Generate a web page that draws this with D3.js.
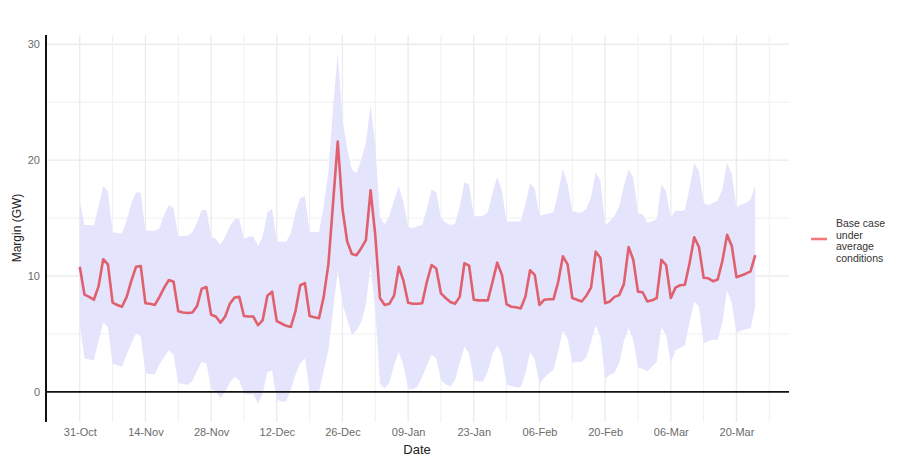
<!DOCTYPE html>
<html>
<head>
<meta charset="utf-8">
<script src="https://cdn.jsdelivr.net/npm/d3@7"></script>
<style>
  body { margin: 0; background: #fff; }
  text { font-family: "Liberation Sans", Arial, sans-serif; }
</style>
</head>
<body>
<svg id="chart" width="906" height="460"></svg>
<script>
// daily values from 31-Oct to 24-Mar
var firstDay = new Date(2022, 9, 31)
var lastDay = new Date(2023, 2, 24)

var margin = [
  10.8, 8.4, 8.2, 7.95, 9.1, 11.45, 11.0,
  7.7, 7.5, 7.35, 8.2, 9.6, 10.8, 10.85,
  7.65, 7.6, 7.5, 8.2, 9.0, 9.65, 9.5,
  6.95, 6.85, 6.8, 6.85, 7.4, 8.9, 9.05,
  6.65, 6.5, 5.97, 6.5, 7.6, 8.15, 8.2,
  6.55, 6.5, 6.5, 5.75, 6.2, 8.3, 8.65,
  6.1, 5.9, 5.7, 5.6, 7.0, 9.2, 9.38,
  6.55, 6.45, 6.35, 8.2, 11.0, 16.3, 21.6,
  15.8, 13.0, 11.9, 11.8, 12.4, 13.1, 17.4,
  13.5, 8.1, 7.5, 7.6, 8.3, 10.8, 9.6,
  7.7, 7.6, 7.6, 7.65, 9.5, 10.95, 10.65,
  8.5, 8.1, 7.75, 7.6, 8.2, 11.1, 10.9,
  7.95, 7.9, 7.9, 7.9, 9.5, 11.15, 10.1,
  7.55, 7.35, 7.3, 7.2, 8.2, 10.5, 10.1,
  7.5, 7.95, 8.0, 8.0, 9.5, 11.7, 11.0,
  8.1, 7.95, 7.8, 8.3, 9.0, 12.1, 11.55,
  7.65, 7.8, 8.2, 8.35, 9.3, 12.5, 11.4,
  8.65, 8.6, 7.8, 7.9, 8.1, 11.4, 10.95,
  8.1, 9.0, 9.2, 9.25, 11.1, 13.35, 12.5,
  9.85, 9.8, 9.55, 9.7, 11.3, 13.55, 12.6,
  9.9, 10.05, 10.2, 10.4, 11.8
]

var upper = [
  16.4, 14.4, 14.4, 14.35, 16.0, 17.8, 17.3,
  13.8, 13.7, 13.7, 14.8, 16.3, 17.2, 17.2,
  13.9, 13.9, 13.9, 14.1, 15.3, 16.1, 15.9,
  13.4, 13.45, 13.5, 13.8, 14.6, 15.7, 15.7,
  13.4, 13.2, 12.7, 13.4, 14.3, 14.9, 14.95,
  13.2, 13.4, 13.4, 12.6, 13.4, 15.5, 15.8,
  13.0, 12.95, 12.95, 13.7, 15.5, 16.7, 16.9,
  13.8, 13.8, 13.8, 16.0, 19.0, 24.5, 29.2,
  23.5, 21.0, 19.2, 18.9, 20.0, 21.5, 24.8,
  21.4, 15.1, 14.4, 15.2, 16.5, 17.75, 16.4,
  14.2, 14.15, 14.3, 14.4, 15.8, 17.45, 17.2,
  15.0, 14.6, 14.4, 14.5, 16.0, 18.1, 17.9,
  15.15, 15.15, 15.2, 15.5, 17.2, 18.55, 17.35,
  14.7, 14.7, 14.7, 14.7, 16.2, 18.0, 17.5,
  15.2, 15.3, 15.4, 15.5, 17.2, 19.25, 17.9,
  15.6, 15.5, 15.45, 15.8, 16.8, 18.95, 18.2,
  14.4, 14.7, 15.2, 16.0, 17.8, 19.2, 18.5,
  15.45, 15.3, 14.6, 14.7, 14.9, 17.9, 17.3,
  15.0, 15.65, 15.6, 15.7, 17.6, 19.75, 19.05,
  16.3, 16.1, 16.3, 16.5, 17.5, 19.75, 18.8,
  15.9, 16.2, 16.3, 16.6, 17.8
]

var lower = [
  5.9, 2.9, 2.8, 2.7, 4.4, 6.0, 5.6,
  2.45, 2.3, 2.2, 3.2, 4.2, 5.05, 4.8,
  1.6, 1.55, 1.55, 2.4, 3.0, 3.6, 3.2,
  0.75, 0.7, 0.6, 0.95, 1.8, 2.6, 2.45,
  0.3, 0.0, -0.55, 0.0, 0.8, 1.3, 1.0,
  -0.15, -0.2, -0.2, -1.0, -0.15, 1.7, 1.85,
  -0.7, -0.8, -0.85, 0.2, 1.5, 2.45, 2.9,
  0.1, 0.0, 0.0, 1.8, 3.6, 7.0, 10.5,
  7.6, 6.3, 4.9, 5.3, 6.0, 7.5, 11.0,
  7.0, 0.7, 0.3, 0.8, 2.3, 3.45, 2.3,
  0.3, 0.2, 0.45, 1.3, 2.3, 3.2, 2.9,
  1.0, 0.65, 0.45, 1.0, 2.5, 3.9, 3.3,
  1.0, 0.9, 0.9, 1.8, 3.3, 4.0, 3.2,
  0.6, 0.5, 0.4, 0.4, 1.6, 3.45, 2.8,
  0.7, 1.2, 1.6, 1.9, 3.5, 5.3, 4.6,
  2.5, 2.6, 2.6, 3.0, 4.3, 5.75, 4.75,
  1.15, 1.45, 1.65, 2.5, 4.4, 5.5, 4.5,
  2.1, 2.0, 1.75, 2.2, 2.6, 5.6, 4.9,
  2.5, 3.6, 3.8, 4.0, 6.0, 7.8, 7.35,
  4.2, 4.4, 4.5, 4.5, 6.0, 8.8, 7.65,
  5.05, 5.3, 5.4, 5.5, 7.35
]

var yTicks = [0, 10, 20, 30]
var yMinor = [5, 15, 25]
var legendLabel = ["Base case", "under", "average", "conditions"]

var svg = d3.select("#chart")
var dates = d3.timeDay.range(firstDay, d3.timeDay.offset(lastDay, 1))
var data = dates.map(function(d, i){
  return {date: d, value: margin[i], hi: upper[i], lo: lower[i]}
})

// ggplot style 5% expansion on x
var pad = (lastDay - firstDay) * 0.05
var x = d3.scaleTime()
  .domain([new Date(+firstDay - pad), new Date(+lastDay + pad)])
  .range([46, 789])
var y = d3.scaleLinear().domain([-2.6, 30.8]).range([422, 35])

// labelled breaks every 2 weeks, minor ones in between
var majorDates = d3.range(0, 11).map(function(k){ return d3.timeDay.offset(firstDay, 14*k) })
var minorDates = d3.range(-1, 11).map(function(k){ return d3.timeDay.offset(firstDay, 14*k + 7) })

var grid = svg.append("g")
grid.selectAll(".ymin").data(yMinor).enter().append("line")
  .attr("x1", 46).attr("x2", 789).attr("y1", d => y(d)).attr("y2", d => y(d))
  .style("stroke", "#f0f0f0").style("stroke-width", 1)
grid.selectAll(".ymaj").data(yTicks.slice(1)).enter().append("line")
  .attr("x1", 46).attr("x2", 789).attr("y1", d => y(d)).attr("y2", d => y(d))
  .style("stroke", "#ebebeb").style("stroke-width", 1.3)
grid.selectAll(".xmin").data(minorDates.filter(d => x(d) > 47 && x(d) < 789)).enter().append("line")
  .attr("x1", d => x(d)).attr("x2", d => x(d)).attr("y1", 35).attr("y2", 422)
  .style("stroke", "#f0f0f0").style("stroke-width", 1)
grid.selectAll(".xmaj").data(majorDates).enter().append("line")
  .attr("x1", d => x(d)).attr("x2", d => x(d)).attr("y1", 35).attr("y2", 422)
  .style("stroke", "#ebebeb").style("stroke-width", 1.3)

// ribbon + line
var area = d3.area().x(d => x(d.date)).y0(d => y(d.lo)).y1(d => y(d.hi))
svg.append("path").datum(data).attr("d", area)
  .style("fill", "#e4e4fd").style("stroke", "none")

var line = d3.line().x(d => x(d.date)).y(d => y(d.value))
svg.append("path").datum(data).attr("d", line)
  .style("fill", "none").style("stroke", "#e0606e").style("stroke-width", 2.6)
  .style("stroke-linejoin", "round")

// zero line and y axis line
svg.append("line").attr("x1", 46).attr("x2", 789).attr("y1", y(0)).attr("y2", y(0))
  .style("stroke", "#111").style("stroke-width", 1.6)
svg.append("line").attr("x1", 46).attr("x2", 46).attr("y1", 35).attr("y2", 422)
  .style("stroke", "#111").style("stroke-width", 2)

// axes
var yAxis = d3.axisLeft(y).tickValues(yTicks).tickSize(0).tickPadding(6)
svg.append("g").attr("transform", "translate(46,0)").call(yAxis)
  .call(g => g.select(".domain").remove())
  .selectAll("text").style("font-size", "11px").style("fill", "#6b6b6b")

var xAxis = d3.axisBottom(x).tickValues(majorDates).tickFormat(d3.timeFormat("%d-%b")).tickSize(0).tickPadding(6)
svg.append("g").attr("transform", "translate(0,422)").call(xAxis)
  .call(g => g.select(".domain").remove())
  .selectAll("text").style("font-size", "11px").style("fill", "#6b6b6b")

svg.append("text").attr("x", 417).attr("y", 454).attr("text-anchor", "middle")
  .style("font-size", "13px").style("fill", "#222").text("Date")
svg.append("text").attr("transform", "translate(21,228) rotate(-90)").attr("text-anchor", "middle")
  .style("font-size", "12px").style("fill", "#222").text("Margin (GW)")

// legend
var leg = svg.append("g")
leg.append("line").attr("x1", 811).attr("x2", 827).attr("y1", 239).attr("y2", 239)
  .style("stroke", "#f07a78").style("stroke-width", 2.6)
leg.selectAll("text").data(legendLabel).enter().append("text")
  .attr("x", 836).attr("y", (d, i) => 227 + i*11.7)
  .style("font-size", "10.5px").style("fill", "#333").text(d => d)
</script>
</body>
</html>
